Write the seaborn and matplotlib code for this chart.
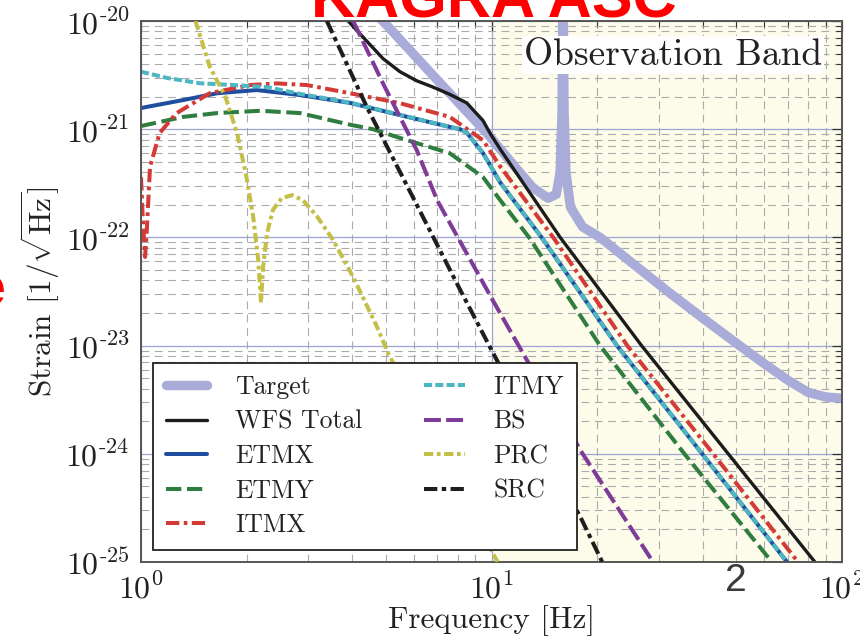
import numpy as np
import pandas as pd
import matplotlib
matplotlib.use("Agg")
import matplotlib.pyplot as plt
import seaborn as sns
from matplotlib.ticker import LogLocator, NullFormatter, FuncFormatter

# ---------------- data ----------------
target_f = [4.4, 4.9, 6.9, 9.7, 11.8, 13.1, 14.5, 15.3, 15.7, 15.9, 16.0, 16.1, 16.3, 16.8, 18.2, 20.4,
            31.7, 40, 50, 60, 70, 80, 90, 100]
target_h = [1.4e-20, 1.0e-20, 3.0e-21, 9.2e-22, 4.3e-22, 2.9e-22, 2.3e-22, 2.5e-22, 4.0e-22, 1.5e-21, 3e-20,
            1.5e-21, 4.0e-22, 1.9e-22, 1.25e-22, 1.0e-22, 3.2e-23, 1.8e-23, 1.05e-23, 6.8e-24, 4.8e-24,
            3.7e-24, 3.35e-24, 3.25e-24]

wfs_f = [3.9, 4.41, 4.9, 5.48, 6.12, 6.81, 7.6, 8.5, 9.46, 9.9, 10.6, 15.7, 26.8, 83.7]
wfs_h = [1.0e-20, 6.5e-21, 4.5e-21, 3.4e-21, 2.8e-21, 2.45e-21, 2.1e-21, 1.75e-21, 1.2e-21, 9.2e-22,
         6.5e-22, 1.0e-22, 1.0e-23, 1.0e-25]

etmx_f = [1.0, 1.32, 1.65, 2.14, 2.84, 3.95, 5.48, 7.6, 8.13, 8.5, 9.46, 10.6, 13.9, 22.8, 39.9, 69.7]
etmx_h = [1.57e-21, 1.86e-21, 2.15e-21, 2.3e-21, 2.07e-21, 1.75e-21, 1.35e-21, 1.05e-21, 1.0e-21, 9.3e-22,
          6.0e-22, 3.2e-22, 1.0e-22, 1.0e-23, 1.0e-24, 1.0e-25]

etmy_f = [1.0, 1.32, 1.65, 2.19, 2.84, 3.95, 4.59, 5.48, 7.6, 9.46, 10.6, 12.8, 20.4, 35.5, 63.1]
etmy_h = [1.07e-21, 1.3e-21, 1.41e-21, 1.48e-21, 1.41e-21, 1.1e-21, 1.0e-21, 8.3e-22, 6.0e-22, 3.6e-22,
          2.2e-22, 1.0e-22, 1.0e-23, 1.0e-24, 1.0e-25]

itmx_f = [1.0, 1.011, 1.027, 1.038, 1.061, 1.13, 1.26, 1.57, 2.05, 2.44, 2.97, 3.95, 5.48, 7.6, 9.46, 10.6,
          15.0, 24.4, 42.9, 74.9]
itmx_h = [3.6e-22, 1.55e-22, 6.6e-23, 1.1e-22, 4.5e-22, 9.2e-22, 1.4e-21, 2.15e-21, 2.56e-21, 2.65e-21,
          2.56e-21, 2.15e-21, 1.74e-21, 1.3e-21, 7.9e-22, 4.5e-22, 1.0e-22, 1.0e-23, 1.0e-24, 1.0e-25]

itmy_f = [1.0, 1.19, 1.47, 1.83, 2.29, 2.84, 3.95, 5.48, 7.6, 8.13, 8.5, 9.46, 10.6, 13.9, 22.8, 39.9, 69.7]
itmy_h = [3.4e-21, 2.97e-21, 2.66e-21, 2.56e-21, 2.45e-21, 2.12e-21, 1.76e-21, 1.36e-21, 1.05e-21, 1.0e-21,
          9.3e-22, 6.0e-22, 3.2e-22, 1.0e-22, 1.0e-23, 1.0e-24, 1.0e-25]

bs_f = [4.03, 4.9, 6.12, 7.0, 10.1, 12.6, 18.2, 28.9]
bs_h = [1.0e-20, 2.66e-21, 6.4e-22, 2.2e-22, 2.6e-23, 7.4e-24, 1.0e-24, 1.0e-25]

prc_f = [1.43, 1.57, 1.74, 1.88, 2.0, 2.09, 2.16, 2.2, 2.23, 2.29, 2.38, 2.52, 2.7, 2.9, 3.18, 3.53, 4.03,
         4.71, 5.07, 10.4]
prc_h = [1.0e-20, 3.8e-21, 2.0e-21, 9.2e-22, 3.6e-22, 1.55e-22, 6.2e-23, 2.5e-23, 5.3e-23, 1.1e-22, 1.8e-22,
         2.3e-22, 2.46e-22, 2.2e-22, 1.56e-22, 9.5e-23, 4.3e-23, 1.5e-23, 8.5e-24, 1.0e-25]

src_f = [3.39, 4.41, 8.13, 10.0, 18.1, 20.7]
src_h = [1.0e-20, 1.6e-21, 3.3e-23, 9.1e-24, 2.45e-25, 1.0e-25]

labels = ["Target", "WFS Total", "ETMX", "ETMY", "ITMX", "ITMY", "BS", "PRC", "SRC"]

# ---------------- style ----------------
sns.set_theme(style="white")
plt.rcParams.update({
    "font.family": ["cmr10", "DejaVu Serif"],
    "mathtext.fontset": "cm",
    "axes.unicode_minus": False,
    "axes.formatter.use_mathtext": True,
})

fig = plt.figure(figsize=(8.6, 6.42), dpi=100)
ax = fig.add_axes([141 / 860, 1 - 562 / 642, 701 / 860, 541 / 642])
ax.set_xscale("log")
ax.set_yscale("log")

ax.axvspan(10, 100, facecolor="#fdfbea", edgecolor="none", zorder=0.1)

styles = {
    "Target":    dict(color="#a9acd8", linewidth=6.8, linestyle="-"),
    "WFS Total": dict(color="#1c1c1c", linewidth=2.4, linestyle="-"),
    "ETMX":      dict(color="#1f4e9e", linewidth=2.9, linestyle="-"),
    "ETMY":      dict(color="#2f7d3f", linewidth=2.9, linestyle=(0, (3.8, 1.4))),
    "ITMX":      dict(color="#d43a36", linewidth=2.9, linestyle=(0, (3.3, 1.1, 0.9, 1.1))),
    "ITMY":      dict(color="#4db6c3", linewidth=2.9, linestyle=(0, (2.0, 0.8))),
    "BS":        dict(color="#7e3b98", linewidth=2.9, linestyle=(0, (4.2, 1.3))),
    "PRC":       dict(color="#c4bf47", linewidth=2.9, linestyle=(0, (2.3, 0.9, 0.9, 0.9))),
    "SRC":       dict(color="#1e1e1e", linewidth=2.9, linestyle=(0, (3.3, 1.1, 1.1, 1.1))),
}
data = {
    "Target": (target_f, target_h), "WFS Total": (wfs_f, wfs_h), "ETMX": (etmx_f, etmx_h),
    "ETMY": (etmy_f, etmy_h), "ITMX": (itmx_f, itmx_h), "ITMY": (itmy_f, itmy_h),
    "BS": (bs_f, bs_h), "PRC": (prc_f, prc_h), "SRC": (src_f, src_h),
}

handles = []
for i, name in enumerate(labels):
    f, h = data[name]
    df = pd.DataFrame({"f": f, "h": h})
    n_before = len(ax.lines)
    sns.lineplot(data=df, x="f", y="h", ax=ax, estimator=None, sort=False,
                 legend=False, zorder=2 + i * 0.1, **styles[name])
    handles.append(ax.lines[n_before])

ax.set_xlim(1, 100)
ax.set_ylim(1e-25, 1e-20)


def pow_fmt(v, pos):
    e = int(round(np.log10(v)))
    if e < 0:
        return r"$10^{\text{-}%d}$" % (-e)
    return r"$10^{%d}$" % e


ax.xaxis.set_major_locator(LogLocator(base=10, numticks=10))
ax.yaxis.set_major_locator(LogLocator(base=10, numticks=10))
ax.xaxis.set_minor_locator(LogLocator(base=10, subs=np.arange(2, 10), numticks=100))
ax.yaxis.set_minor_locator(LogLocator(base=10, subs=np.arange(2, 10), numticks=100))
ax.xaxis.set_major_formatter(FuncFormatter(pow_fmt))
ax.yaxis.set_major_formatter(FuncFormatter(pow_fmt))
ax.xaxis.set_minor_formatter(NullFormatter())
ax.yaxis.set_minor_formatter(NullFormatter())

ax.set_axisbelow(True)
ax.grid(which="major", color="#9ea5d6", linewidth=0.9, linestyle="-")
ax.grid(which="minor", color="#ababab", linewidth=0.8, linestyle=(0, (7, 5)))

ax.tick_params(which="both", direction="in", top=True, right=True, colors="#333333")
ax.tick_params(which="major", length=7, width=0.9, labelsize=23, pad=8, labelcolor="#222222")
ax.tick_params(which="minor", length=4, width=0.8)
for s in ax.spines.values():
    s.set_color("#555555")
    s.set_linewidth(1.4)

ax.set_xlabel("Frequency [Hz]", fontsize=22.5, color="#222222", labelpad=0.5)
ax.set_ylabel(r"Strain $[1/\sqrt{\mathrm{Hz}}]$", fontsize=22.5, color="#222222")
ax.yaxis.set_label_coords((62 - 141) / 701, 0.5)

ax.text(0.9715, 0.919, "Observation Band", transform=ax.transAxes, ha="right", va="baseline",
        fontsize=27, color="#222222", zorder=5,
        bbox=dict(facecolor="white", edgecolor="none", pad=1.5))

leg = ax.legend(handles, labels, ncol=2, loc="lower left", bbox_to_anchor=(0.017, 0.022),
                fontsize=18.5, frameon=True, fancybox=False, framealpha=1, edgecolor="#222222",
                handlelength=1.6, handletextpad=1.1, columnspacing=2.4, labelspacing=0.42,
                borderpad=0.5, borderaxespad=0)
leg.get_frame().set_linewidth(1.3)
leg.set_zorder(10)
for t in leg.get_texts():
    t.set_color("#222222")

# slide fragments around the chart
fig.text(0.574, 1 - 17 / 642, "KAGRA ASC", ha="center", va="baseline", fontsize=44,
         fontweight="bold", color="#ff0000", family=["Liberation Sans", "DejaVu Sans"])
fig.text(6 / 860, 1 - 305 / 642, "e", ha="right", va="baseline", fontsize=40,
         fontweight="bold", color="#ff0000", family=["Liberation Sans", "DejaVu Sans"])
fig.text(736 / 860, 1 - 591 / 642, "2", ha="center", va="baseline", fontsize=28,
         color="#3a3a3a", family=["Liberation Sans", "DejaVu Sans"])

fig.savefig("out.png", dpi=100)
